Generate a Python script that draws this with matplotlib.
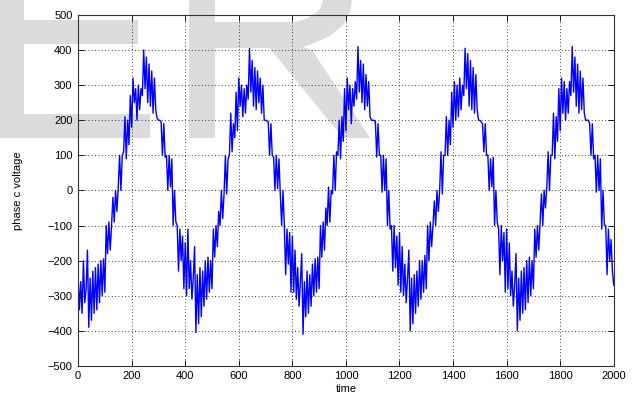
import numpy as np
import matplotlib
matplotlib.use('Agg')
from matplotlib import pyplot as plt
from matplotlib.patches import Polygon
from matplotlib.transforms import Affine2D

# sample spacing of the recorded signal (time units)
step = 5

# phase c voltage, one list per 400-unit cycle
cycle1 = [-240, -340, -260, -350, -200, -320, -280, -170, -390, -250,
          -370, -230, -350, -220, -340, -210, -320, -200, -300, -195,
          -290, -100, -180, -90, -170, -100, -20, -90, 0, -60,
          10, 100, 0, 100, 110, 210, 90, 200, 130, 270,
          180, 320, 250, 290, 200, 300, 230, 290, 270, 400,
          290, 380, 250, 360, 240, 340, 220, 320, 230, 205,
          200, 200, 195, 100, 190, 95, 100, 0, 100, 10,
          90, -100, 0, -90, -100, -230, -110, -200, -130, -280]
cycle2 = [-150, -300, -110, -280, -200, -310, -250, -160, -405, -240,
          -380, -220, -360, -230, -330, -200, -310, -190, -290, -200,
          -280, -110, -190, -100, -160, -60, -100, 0, -80, -10,
          100, -10, 90, 100, 220, 110, 190, 150, 280, 170,
          320, 240, 300, 210, 290, 220, 300, 260, 404, 280,
          370, 240, 350, 230, 340, 250, 320, 220, 300, 200,
          200, 198, 195, 100, 190, 100, 95, 0, 100, 5,
          90, -10, -100, 0, -100, -240, -110, -210, -120, -290]
cycle3 = [-130, -290, -170, -310, -220, -330, -260, -180, -410, -260,
          -360, -230, -350, -240, -330, -210, -300, -195, -290, -190,
          -280, -100, -190, -90, -170, -50, -100, 10, -90, 0,
          -10, 100, 0, 110, 100, 200, 90, 210, 140, 290,
          170, 320, 230, 300, 190, 290, 240, 310, 260, 410,
          280, 370, 250, 360, 230, 330, 240, 310, 210, 200,
          200, 200, 195, 95, 190, 100, 100, -5, 100, 0,
          90, -100, 0, -110, -100, -230, -100, -220, -130, -270]
cycle4 = [-120, -290, -160, -300, -210, -320, -250, -170, -400, -250,
          -380, -240, -350, -230, -330, -200, -310, -200, -290, -185,
          -280, -100, -200, -90, -160, -100, -30, -100, 0, -60,
          0, 110, -10, 100, 100, 210, 100, 200, 130, 280,
          180, 310, 200, 300, 210, 320, 230, 300, 270, 405,
          290, 390, 240, 370, 230, 350, 220, 330, 230, 200,
          200, 195, 190, 110, 190, 100, 100, 0, 90, 10,
          95, -100, 0, -90, -110, -240, -100, -200, -120, -290]
cycle5 = [-110, -280, -150, -300, -230, -330, -270, -180, -400, -250,
          -370, -230, -350, -220, -340, -200, -320, -190, -300, -200,
          -280, -110, -190, -100, -170, -90, -10, -100, 0, -50,
          10, 110, 0, 100, 100, 220, 90, 210, 140, 290,
          170, 320, 220, 310, 200, 290, 220, 310, 270, 410,
          280, 380, 240, 360, 220, 340, 230, 320, 220, 200,
          200, 200, 190, 100, 190, 90, 100, -5, 100, 0,
          90, -110, 0, -100, -100, -240, -110, -200, -140, -230,
          -270]

xticks = np.arange(0, 2001, 200)
yticks = np.arange(-500, 501, 100)

# grey "ER" watermark outlines, in pixels from the top-left corner
wm_colour = '#dcdcdc'
e_shape = [(0, 0), (24, 0), (24, 20), (138, 20), (138, 44), (24, 44),
           (24, 114), (150, 114), (150, 138), (0, 138)]
r_stem = [(189, 0), (215, 0), (215, 138), (189, 138)]
r_bowl = [(215, 22), (290, 22), (300, 21), (312, 16), (320, 9), (323, 0),
          (352, 0), (350, 12), (343, 25), (330, 36), (312, 44), (300, 48),
          (215, 48)]
r_leg = [(268, 46), (300, 46), (312, 50), (370, 138), (343, 138)]


def plot_phase_c():
	''' plots phase c voltage against time
	'''
	voltage = np.array(cycle1 + cycle2 + cycle3 + cycle4 + cycle5)
	time = np.arange(len(voltage))*step

	f, ax = plt.subplots(1, 1, figsize=(6.4, 4.03), dpi=100)
	f.subplots_adjust(left=0.122, right=0.959, bottom=0.092, top=0.963)
	ax.set_facecolor('none')

	# watermark behind the axes
	px = Affine2D().scale(1/640., -1/403.).translate(0, 1) + f.transFigure
	for shape in [e_shape, r_stem, r_bowl, r_leg]:
		f.patches.append(Polygon(shape, closed=True, transform=px, fc=wm_colour,
			ec='none', zorder=-1))

	ax.plot(time, voltage, 'b-', lw=1.0)

	ax.set_xlim(0, 2000)
	ax.set_ylim(-500, 500)
	ax.set_xticks(xticks)
	ax.set_yticks(yticks)
	ax.grid(True, color='k', linestyle=(0, (1, 3)), lw=0.6)
	ax.tick_params(direction='in', top=True, right=True, length=4, width=0.6,
		labelsize=8, pad=4)
	for s in ax.spines.values():
		s.set_linewidth(0.8)
		s.set_color('#333333')
	ax.set_xlabel('time', fontsize=8, labelpad=2)
	ax.set_ylabel('phase c voltage', fontsize=8)
	ax.yaxis.set_label_coords(-0.102, 0.5)
	plt.savefig('out.png', dpi=100)


plt.rcParams['font.family'] = ['Liberation Sans', 'DejaVu Sans']
plot_phase_c()
